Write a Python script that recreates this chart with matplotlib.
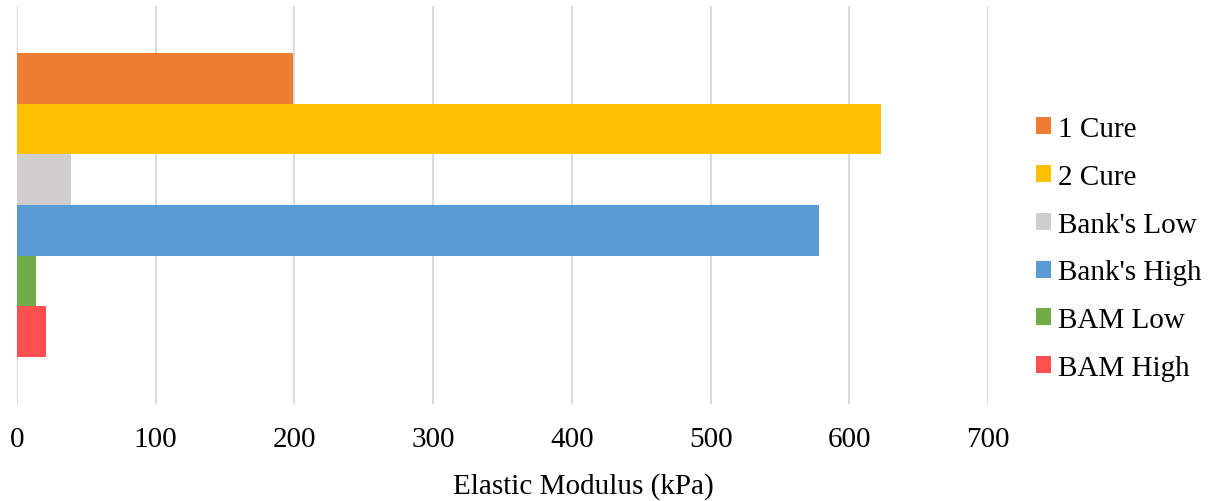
import matplotlib
matplotlib.use("Agg")
import matplotlib.pyplot as plt
import numpy as np

series = ["1 Cure", "2 Cure", "Bank's Low", "Bank's High", "BAM Low", "BAM High"]
values = [199, 623, 39, 578, 14, 21]
colors = ["#ED7D31", "#FFC000", "#D0CECE", "#5B9BD5", "#70AD47", "#FF5050"]
xticks = [0, 100, 200, 300, 400, 500, 600, 700]
xlabel = "Elastic Modulus (kPa)"

plt.rcParams["font.family"] = ["Liberation Serif", "DejaVu Serif"]

W, H = 1214, 502
fig = plt.figure(figsize=(W / 100, H / 100), dpi=100)
ax = fig.add_axes([17 / W, 1 - 405 / H, (988 - 17) / W, (405 - 7) / H])

n = len(series)
pos = np.arange(n)[::-1].astype(float)
for p, v, c, lab in zip(pos, values, colors, series):
    ax.barh(p, v, height=1.0, color=c, label=lab, zorder=2, linewidth=0)

ax.set_xlim(0, 700)
ax.set_ylim(-0.5 - 0.93, n - 0.5 + 0.93)
ax.set_xticks(xticks)
ax.set_xticklabels([str(t) for t in xticks])
ax.set_yticks([])
ax.grid(axis="x", color="#D9D9D9", linewidth=1.4, zorder=0)
ax.tick_params(axis="x", length=0, pad=16, labelsize=21)
for s in ax.spines.values():
    s.set_visible(False)

fig.text(583 / W, 1 - 487 / H, xlabel, ha="center", va="center", fontsize=21)

handles, labels = ax.get_legend_handles_labels()
fig.legend(handles, labels, loc="center left",
           bbox_to_anchor=(1036 / W, 1 - 249.5 / H),
           frameon=False, fontsize=21, borderpad=0, borderaxespad=0,
           handlelength=0.52, handleheight=0.52, handletextpad=0.25,
           labelspacing=0.75)

fig.savefig("out.png", dpi=100)
